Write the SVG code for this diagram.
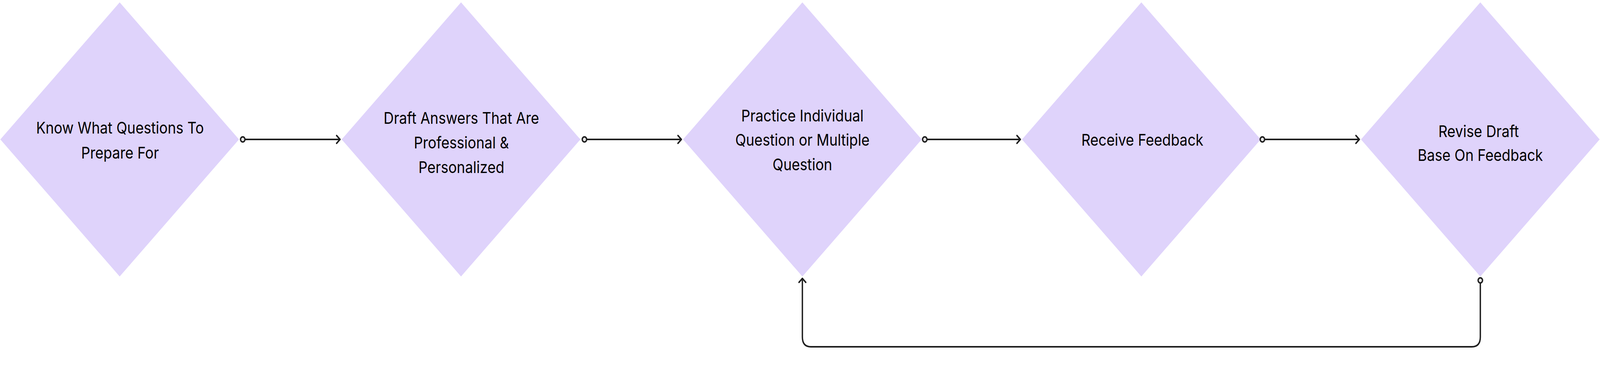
<svg xmlns="http://www.w3.org/2000/svg" width="4706" height="950" viewBox="0 0 4706 950" preserveAspectRatio="none" style="max-width:100vw;max-height:100vh;display:block">
<style>
.node{fill:#DFD3FB;}
.lbl{font-family:Inter,"Liberation Sans",sans-serif;font-size:41.5px;fill:#000;text-anchor:middle;}
.edge{fill:none;stroke:#1E1E1E;stroke-width:4;stroke-linecap:round;stroke-linejoin:round;}
</style>
<defs>
<marker id="arr" markerUnits="userSpaceOnUse" markerWidth="30" markerHeight="30" viewBox="-20 -15 30 30" refX="0" refY="0" orient="auto">
<path d="M-10,-10 L0,0 L-10,10" fill="none" stroke="#1E1E1E" stroke-width="4" stroke-linecap="round" stroke-linejoin="round"/>
</marker>
<marker id="dot" markerUnits="userSpaceOnUse" markerWidth="30" markerHeight="30" viewBox="-15 -15 30 30" refX="0" refY="0" orient="auto">
<circle cx="0" cy="0" r="6.5" fill="#E6E6E6" stroke="#1E1E1E" stroke-width="4"/>
</marker>
</defs>
<rect width="4706" height="950" fill="#FFFFFF"/>
<g id="n1"><polygon class="node" points="352,6 703,357 352,708 1,357"/>
<text class="lbl" x="353" y="342">Know What Questions To</text>
<text class="lbl" x="353" y="406">Prepare For</text></g>
<g id="n2"><polygon class="node" points="1356,6 1707,357 1356,708 1005,357"/>
<text class="lbl" x="1357" y="317">Draft Answers That Are</text>
<text class="lbl" x="1357" y="380">Professional &amp;</text>
<text class="lbl" x="1357" y="443">Personalized</text></g>
<g id="n3"><polygon class="node" points="2360,6 2711,357 2360,708 2009,357"/>
<text class="lbl" x="2360" y="311">Practice Individual</text>
<text class="lbl" x="2360" y="373">Question or Multiple</text>
<text class="lbl" x="2360" y="436">Question</text></g>
<g id="n4"><polygon class="node" points="3357,6 3708,357 3357,708 3006,357"/>
<text class="lbl" x="3360" y="373">Receive Feedback</text></g>
<g id="n5"><polygon class="node" points="4354,6 4705,357 4354,708 4003,357"/>
<text class="lbl" x="4349" y="351">Revise Draft</text>
<text class="lbl" x="4354" y="412">Base On Feedback</text></g>
<g id="connectors">
<path class="edge" d="M714,357 L1000,357" marker-start="url(#dot)" marker-end="url(#arr)"/>
<path class="edge" d="M1719,357 L2004,357" marker-start="url(#dot)" marker-end="url(#arr)"/>
<path class="edge" d="M2720,357 L3001,357" marker-start="url(#dot)" marker-end="url(#arr)"/>
<path class="edge" d="M3713,357 L3998,357" marker-start="url(#dot)" marker-end="url(#arr)"/>
<path class="edge" d="M4354,718 L4354,863 Q4354,888 4329,888 L2385,888 Q2360,888 2360,863 L2360,713" marker-start="url(#dot)" marker-end="url(#arr)"/>
</g>
</svg>
